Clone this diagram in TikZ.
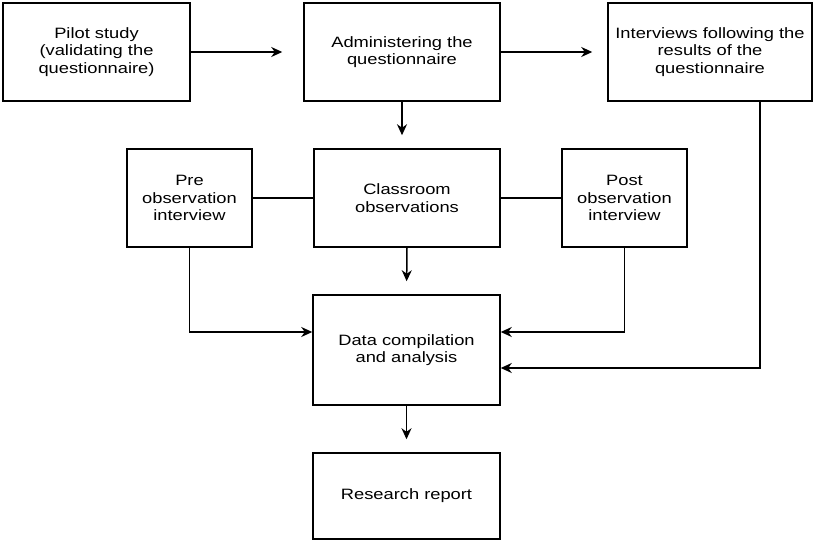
\documentclass[tikz,border=0pt]{standalone}
\usepackage{fontspec}
\setmainfont[FakeStretch=1.22]{Liberation Sans}
\usetikzlibrary{arrows.meta,calc}
\begin{document}
\begin{tikzpicture}[x=1pt,y=-1pt,
  box/.style={draw=black,line width=1.5pt,inner sep=0pt,align=center,
    font=\fontsize{15pt}{17.7pt}\selectfont,text=black},
  conn/.style={draw=black,line width=1.5pt},
  arr/.style={conn,-{Stealth[length=11pt,width=10pt,inset=3.5pt]}}]
\useasboundingbox (0,0) rectangle (814,540);
\node[box,minimum width=187pt,minimum height=98pt] (pilot) at (96.5,52) {Pilot study\\(validating the\\questionnaire)};
\node[box,minimum width=196pt,minimum height=98pt] (admin) at (402,52) {Administering the\\questionnaire};
\node[box,minimum width=204pt,minimum height=98pt] (interv) at (710,52) {Interviews following the\\results of the\\questionnaire};
\node[box,minimum width=125pt,minimum height=98pt] (pre) at (189.5,198) {Pre\\observation\\interview};
\node[box,minimum width=186pt,minimum height=98pt] (class) at (407,198) {Classroom\\observations};
\node[box,minimum width=125pt,minimum height=98pt] (post) at (624.5,198) {Post\\observation\\interview};
\node[box,minimum width=187pt,minimum height=110pt] (data) at (406.5,350) {Data compilation\\and analysis};
\node[box,minimum width=187pt,minimum height=86pt] (report) at (406.5,496) {Research report};
\draw[arr,shorten >=21pt] (pilot.east) -- (admin.west);
\draw[arr,shorten >=15pt] (admin.east) -- (interv.west);
\draw[arr,shorten >=13pt] (admin.south) -- (admin.south |- class.north);
\draw[arr,shorten >=13pt] (class.south) -- (data.north);
\draw[arr,shorten >=13pt] (data.south) -- (report.north);
\draw[conn] (pre.east) -- (class.west);
\draw[conn] (class.east) -- (post.west);
\draw[arr] (pre.south) |- ([yshift=18pt]data.west);
\draw[arr] (post.south) |- ([yshift=18pt]data.east);
\draw[arr] ([xshift=50pt]interv.south) |- ([yshift=-18pt]data.east);
\end{tikzpicture}
\end{document}
